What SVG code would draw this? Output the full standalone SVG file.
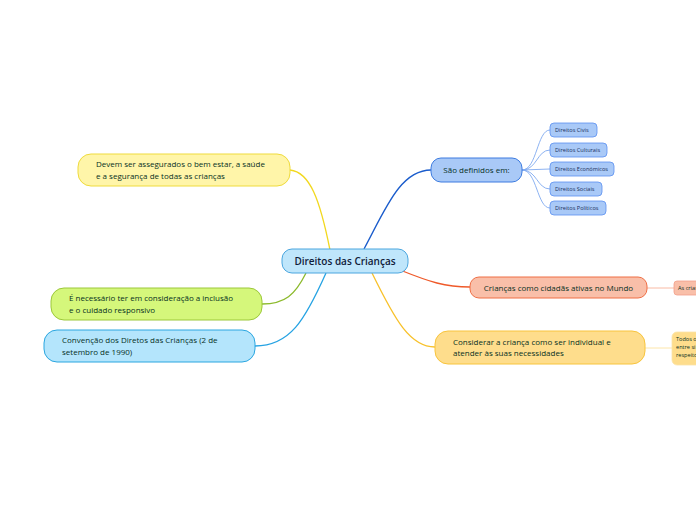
<svg xmlns="http://www.w3.org/2000/svg" width="696" height="520" viewBox="0 0 696 520">
<style>
text{font-family:"Open Sans","Noto Sans","Liberation Sans",sans-serif;fill:#06301f}
.c{font-size:10px;font-weight:600;fill:#10203a;text-anchor:middle}
.m{font-size:8px;font-weight:500}
.s{font-size:5.6px;fill:#1a2f5a}
.t{font-size:5.6px}
.w{fill:none;stroke-width:1.3}
</style>
<rect width="696" height="520" fill="#ffffff"/>
<g id="connectors">
<path class="w" stroke="#f2d81e" d="M330,250 C320,200 310,172 290,170"/>
<path class="w" stroke="#8cba2c" d="M306,273 C295,295 285,304 262,304"/>
<path class="w" stroke="#26a3e3" d="M326,273 C305,320 290,346 255,346"/>
<path class="w" stroke="#1a5ccc" d="M364,249 C385,210 400,170 431,170"/>
<path class="w" stroke="#ef5a2a" d="M400,270 C430,282 445,287 470,287"/>
<path class="w" stroke="#f8c12a" d="M372,273 C395,320 410,347 435,347"/>
<g fill="none" stroke="#7fa9ef" stroke-width="0.9">
<path d="M522,170 C537,170 537,130 550,130"/>
<path d="M522,170 C537,170 537,150 550,150"/>
<path d="M522,170 L550,169"/>
<path d="M522,170 C537,170 537,189 550,189"/>
<path d="M522,170 C537,170 537,208 550,208"/>
</g>
<path fill="none" stroke="#f8b29a" stroke-width="0.9" d="M647,288 L674,288"/>
<path fill="none" stroke="#fde3a0" stroke-width="0.9" d="M645,348 L672,348"/>
</g>
<g id="central">
<rect x="282" y="249" width="126" height="24" rx="10" fill="#bfe6fb" stroke="#4aa6df" stroke-width="1"/>
<text class="c" x="345" y="265">Direitos das Crianças</text>
</g>
<g id="sao-definidos">
<rect x="431" y="158" width="91" height="24" rx="10" fill="#a9c9f7" stroke="#3c7be0" stroke-width="1"/>
<text class="m" x="476.5" y="173" text-anchor="middle">São definidos em:</text>
</g>
<g id="civis"><rect x="550" y="123" width="47" height="14" rx="4" fill="#a9c9f7" stroke="#5b8ff0" stroke-width="0.8"/><text class="s" x="555" y="132">Direitos Civis</text></g>
<g id="culturais"><rect x="550" y="143" width="57" height="14" rx="4" fill="#a9c9f7" stroke="#5b8ff0" stroke-width="0.8"/><text class="s" x="555" y="152">Direitos Culturais</text></g>
<g id="economicos"><rect x="550" y="162" width="64" height="14" rx="4" fill="#a9c9f7" stroke="#5b8ff0" stroke-width="0.8"/><text class="s" x="555" y="171">Direitos Económicos</text></g>
<g id="sociais"><rect x="550" y="182" width="52" height="14" rx="4" fill="#a9c9f7" stroke="#5b8ff0" stroke-width="0.8"/><text class="s" x="555" y="191">Direitos Sociais</text></g>
<g id="politicos"><rect x="550" y="201" width="56" height="14" rx="4" fill="#a9c9f7" stroke="#5b8ff0" stroke-width="0.8"/><text class="s" x="555" y="210">Direitos Políticos</text></g>
<g id="cidadas">
<rect x="470" y="277" width="177" height="21" rx="9" fill="#f9bfa9" stroke="#ef6f45" stroke-width="1"/>
<text class="m" x="558.5" y="290.5" text-anchor="middle">Crianças como cidadãs ativas no Mundo</text>
</g>
<g id="as-criancas">
<rect x="674" y="281" width="40" height="14" rx="3" fill="#f9bfa9" stroke="#f3a08a" stroke-width="0.8"/>
<text class="t" x="678" y="290">As crianças</text>
</g>
<g id="considerar">
<rect x="435" y="331" width="210" height="33" rx="13" fill="#fedd8c" stroke="#f8c43c" stroke-width="1"/>
<text class="m" x="453" y="345">Considerar a criança como ser individual e</text>
<text class="m" x="453" y="356">atender às suas necessidades</text>
</g>
<g id="todos">
<rect x="672" y="332" width="40" height="33" rx="5" fill="#fedd8c" stroke="#fbe3a8" stroke-width="0.8"/>
<text class="t" x="676" y="341">Todos os</text>
<text class="t" x="676" y="349">entre si</text>
<text class="t" x="676" y="357">respeito</text>
</g>
<g id="devem">
<rect x="78" y="154" width="212" height="32" rx="13" fill="#fff5a9" stroke="#efdb3c" stroke-width="1"/>
<text class="m" x="96" y="167">Devem ser assegurados o bem estar, a saúde</text>
<text class="m" x="96" y="178.5">e  a segurança de todas as crianças</text>
</g>
<g id="necessario">
<rect x="51" y="288" width="211" height="32" rx="13" fill="#d5f77b" stroke="#9cc83a" stroke-width="1"/>
<text class="m" x="69" y="301">É necessário ter em consideração a inclusão</text>
<text class="m" x="69" y="312.5">e o cuidado responsivo</text>
</g>
<g id="convencao">
<rect x="44" y="330" width="211" height="32" rx="13" fill="#b4e5fc" stroke="#2aa6e0" stroke-width="1"/>
<text class="m" x="62" y="343">Convenção dos Diretos das Crianças (2 de</text>
<text class="m" x="62" y="354.5">setembro de 1990)</text>
</g>
</svg>
